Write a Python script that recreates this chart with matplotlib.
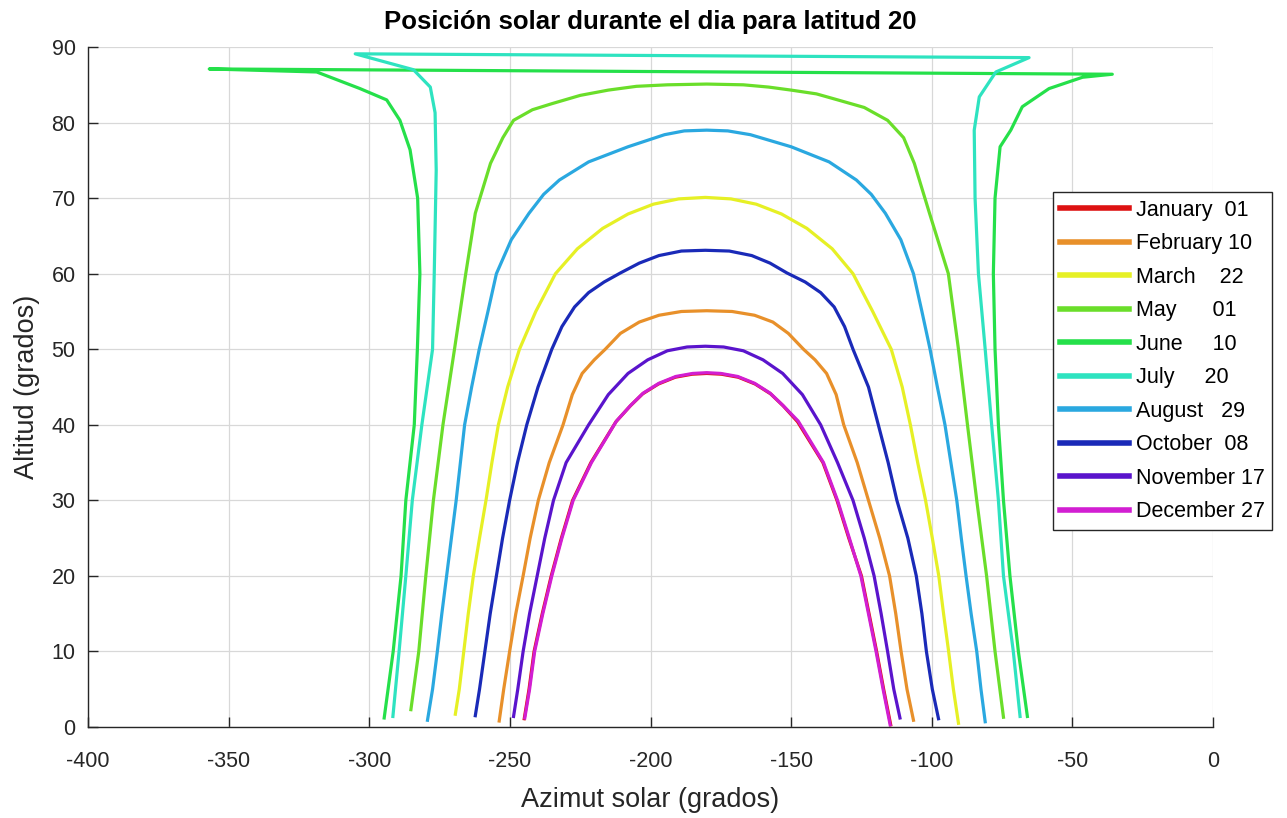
import matplotlib
matplotlib.use("Agg")
import matplotlib.pyplot as plt
from matplotlib.ticker import MultipleLocator

plt.rcParams['font.family'] = ['Liberation Sans', 'DejaVu Sans']
plt.rcParams['axes.unicode_minus'] = False

# ---------------- data ----------------
labels = ['January  01', 'February 10', 'March    22', 'May      01',
          'June     10', 'July     20', 'August   29', 'October  08',
          'November 17', 'December 27']
colors = ['#dd1111', '#e8902a', '#e6f025', '#6ade2a', '#25e04a',
          '#2ee3c0', '#2aa8e0', '#1a2ab8', '#5a14cc', '#d21ed2']

jan_az = [-244.9, -243.2, -241.4, -238.5, -235.3, -231.7, -227.7, -221.2, -212.3, -207.2,
          -202.8, -197.2, -191.2, -185.2, -180, -174.8, -168.8, -162.8, -157.3, -152.8,
          -147.7, -138.7, -133.7, -129.5, -125.0, -122.3, -119.6, -117.1, -114.6]
jan_alt = [1.1, 5, 10, 15, 20, 25, 30, 35, 40.4, 42.5,
           44.1, 45.4, 46.3, 46.7, 46.8, 46.7, 46.3, 45.4, 44.1, 42.5,
           40.4, 35, 30, 25, 20, 15, 10, 5, 0.3]

feb_az = [-253.8, -252.2, -250.1, -247.9, -245.3, -242.8, -239.9, -236.0, -231.1, -227.8,
          -224.3, -220.0, -216.1, -210.7, -204.0, -197.0, -189.0, -180, -171.0, -163.0,
          -156.5, -151.0, -145.6, -141.5, -137.4, -134.0, -131.3, -126.5, -122.5, -118.5,
          -115.0, -112.8, -110.9, -108.8, -106.5]
feb_alt = [0.8, 5, 10, 15, 20, 25, 30, 35, 40, 44,
           46.8, 48.6, 50, 52.1, 53.6, 54.5, 55.0, 55.1, 55.0, 54.5,
           53.6, 52.1, 50, 48.6, 46.8, 44, 40, 35, 30, 25,
           20, 15, 10, 5, 0.9]

mar_az = [-269.4, -268.0, -266.4, -264.8, -263.0, -260.8, -258.5, -256.4, -254.1, -250.8,
          -246.6, -240.8, -233.8, -226.0, -217.0, -208.0, -199.0, -190.0, -180.5, -171.4,
          -162.4, -153.4, -144.4, -135.4, -128.0, -121.0, -114.4, -110.5, -107.6, -105.0,
          -102.2, -99.8, -97.5, -95.8, -94.0, -92.3, -90.5]
mar_alt = [1.7, 5, 10, 15, 20, 25, 30, 35, 40, 45,
           50, 55, 60, 63.3, 66.0, 67.9, 69.2, 69.9, 70.1, 69.9,
           69.2, 67.9, 66.0, 63.3, 60, 55, 50, 45, 40, 35,
           30, 25, 20, 15, 10, 5, 0.5]

may_az = [-285.2, -282.4, -279.9, -277.2, -273.8, -269.7, -265.7, -262.3, -256.9, -252.5,
          -248.7, -242.0, -235.1, -225.0, -215.0, -205.0, -194.0, -180, -167.0, -158.0,
          -150.0, -141.0, -133.4, -124.0, -115.7, -110.0, -106.2, -100.8, -94.1, -90.5,
          -87.3, -84.0, -80.5, -77.5, -74.5]
may_alt = [2.3, 10, 20, 30, 40, 50, 60, 68, 74.6, 78,
           80.3, 81.7, 82.5, 83.6, 84.3, 84.8, 85.0, 85.1, 85.0, 84.7,
           84.3, 83.8, 83.0, 82.0, 80.3, 78, 74.6, 68, 60, 50,
           40, 30, 20, 10, 1.3]

jun_az = [-294.7, -291.5, -288.7, -287.0, -284.0, -282.9, -282.0, -282.8, -285.5, -289.1,
          -293.8, -303.3, -318.7, -356.9, -35.8, -46.4, -58.3, -67.8, -71.9, -75.7,
          -77.5, -78.1, -77.5, -76.3, -74.5, -72.2, -69.2, -66.0]
jun_alt = [1.2, 10, 20, 30, 40, 50, 60, 70, 76.4, 80.3,
           83.0, 84.5, 86.7, 87.1, 86.4, 86.0, 84.5, 82.1, 79.0, 76.8,
           70, 60, 50, 40, 30, 20, 10, 1.4]

jul_az = [-291.6, -289.4, -287.0, -284.7, -281.3, -277.5, -276.9, -276.2, -276.6, -278.3,
          -284.3, -305.0, -65.4, -77.2, -83.1, -84.9, -84.6, -83.4, -81.0, -78.7,
          -76.3, -74.5, -71.0, -68.6]
jul_alt = [1.4, 10, 20, 30, 40, 50, 60, 73.7, 81.3, 84.7,
           87.0, 89.1, 88.6, 86.7, 83.4, 79.0, 70, 60, 50, 40,
           30, 20, 10, 1.4]

aug_az = [-279.3, -277.5, -275.8, -274.2, -272.5, -270.8, -269.1, -267.6, -266.1, -263.6,
          -260.9, -257.8, -254.8, -249.5, -243.2, -238.0, -232.4, -222.0, -208.0, -195.0,
          -188.0, -180, -172.5, -164.5, -150.0, -136.5, -126.8, -121.5, -116.5, -111.0,
          -106.5, -103.5, -100.6, -98.0, -95.3, -93.2, -91.1, -89.5, -87.8, -86.0,
          -84.0, -82.5, -81.0]
aug_alt = [0.9, 5, 10, 15, 20, 25, 30, 35, 40, 45,
           50, 55, 60, 64.5, 68, 70.5, 72.4, 74.8, 76.8, 78.4,
           78.9, 79.0, 78.9, 78.4, 76.8, 74.8, 72.4, 70.5, 68, 64.5,
           60, 55, 50, 45, 40, 35, 30, 25, 20, 15,
           10, 5, 0.7]

oct_az = [-262.3, -260.8, -258.9, -257.0, -254.8, -252.6, -250.1, -247.3, -244.0, -240.0,
          -235.1, -231.5, -227.0, -222.0, -216.5, -210.7, -204.0, -197.0, -189.0, -180.5,
          -172.0, -164.0, -157.5, -151.5, -145.0, -139.5, -134.7, -131.0, -128.0, -122.5,
          -119.0, -115.5, -112.4, -108.5, -105.5, -103.5, -101.9, -99.8, -97.6]
oct_alt = [1.5, 5, 10, 15, 20, 25, 30, 35, 40, 45,
           50, 53, 55.6, 57.5, 58.9, 60.1, 61.4, 62.4, 63.0, 63.1,
           63.0, 62.4, 61.4, 60.1, 58.9, 57.5, 55.6, 53, 50, 45,
           40, 35, 30, 25, 20, 15, 10, 5, 1.1]

nov_az = [-248.7, -247.2, -245.3, -243.0, -240.3, -237.6, -234.5, -230.0, -222.0, -215.0,
          -208.0, -201.0, -194.0, -187.0, -180.5, -174.0, -167.0, -160.0, -153.0, -146.0,
          -139.5, -133.5, -128.0, -124.0, -120.5, -118.0, -115.7, -113.5, -111.3]
nov_alt = [1.4, 5, 10, 15, 20, 25, 30, 35, 40, 44,
           46.8, 48.6, 49.8, 50.3, 50.4, 50.3, 49.8, 48.6, 46.8, 44,
           40, 35, 30, 25, 20, 15, 10, 5, 1.2]

dec_az = [-244.7, -243.0, -241.2, -238.3, -235.1, -231.5, -227.5, -221.0, -212.1, -207.0,
          -202.6, -197.0, -191.0, -185.0, -180, -175.0, -169.0, -163.0, -157.5, -153.0,
          -147.5, -138.5, -133.5, -129.3, -125.2, -122.5, -119.8, -117.3, -114.8]
dec_alt = [1.2, 5, 10, 15, 20, 25, 30, 35, 40.5, 42.6,
           44.2, 45.5, 46.4, 46.8, 46.9, 46.8, 46.4, 45.5, 44.2, 42.6,
           40.5, 35, 30, 25, 20, 15, 10, 5, 0.3]

azimuts = [jan_az, feb_az, mar_az, may_az, jun_az, jul_az, aug_az, oct_az, nov_az, dec_az]
altitudes = [jan_alt, feb_alt, mar_alt, may_alt, jun_alt, jul_alt, aug_alt, oct_alt, nov_alt, dec_alt]

# ---------------- figure ----------------
fig = plt.figure(figsize=(12.87, 8.18), dpi=100)
ax = fig.add_axes([0.0684, 0.1112, 0.8741, 0.8313])

for az, alt, c, lab in zip(azimuts, altitudes, colors, labels):
    ax.plot(az, alt, color=c, lw=2.3, label=lab, solid_joinstyle='round')

ax.set_xlim(-400, 0)
ax.set_ylim(0, 90)
ax.xaxis.set_major_locator(MultipleLocator(50))
ax.yaxis.set_major_locator(MultipleLocator(10))
ax.grid(True, color='#d8d8d8', lw=0.9)
ax.set_axisbelow(True)

for s in ['top', 'right']:
    ax.spines[s].set_visible(False)
for s in ['left', 'bottom']:
    ax.spines[s].set_color('#262626')
    ax.spines[s].set_linewidth(1.0)
ax.tick_params(direction='in', length=7, width=1.0, colors='#262626', labelsize=15.5)
ax.tick_params(axis='x', pad=17)
ax.tick_params(axis='y', pad=9)

ax.set_xlabel('Azimut solar (grados)', fontsize=19.5, color='#262626', labelpad=11)
ax.set_ylabel('Altitud (grados)', fontsize=19.5, color='#262626', labelpad=8)
ax.set_title('Posición solar durante el dia para latitud 20', fontsize=18.5,
             fontweight='bold', pad=13)

leg = fig.legend(loc='upper left', bbox_to_anchor=(0.818, 0.765),
                 bbox_transform=fig.transFigure, fontsize=15.5, frameon=True,
                 fancybox=False, edgecolor='#262626', framealpha=1,
                 handlelength=3.2, handletextpad=0.3, labelspacing=0.58,
                 borderpad=0.35, borderaxespad=0)
leg.get_frame().set_linewidth(1.0)
for line in leg.get_lines():
    line.set_linewidth(4)

fig.savefig('out.png', dpi=100)
